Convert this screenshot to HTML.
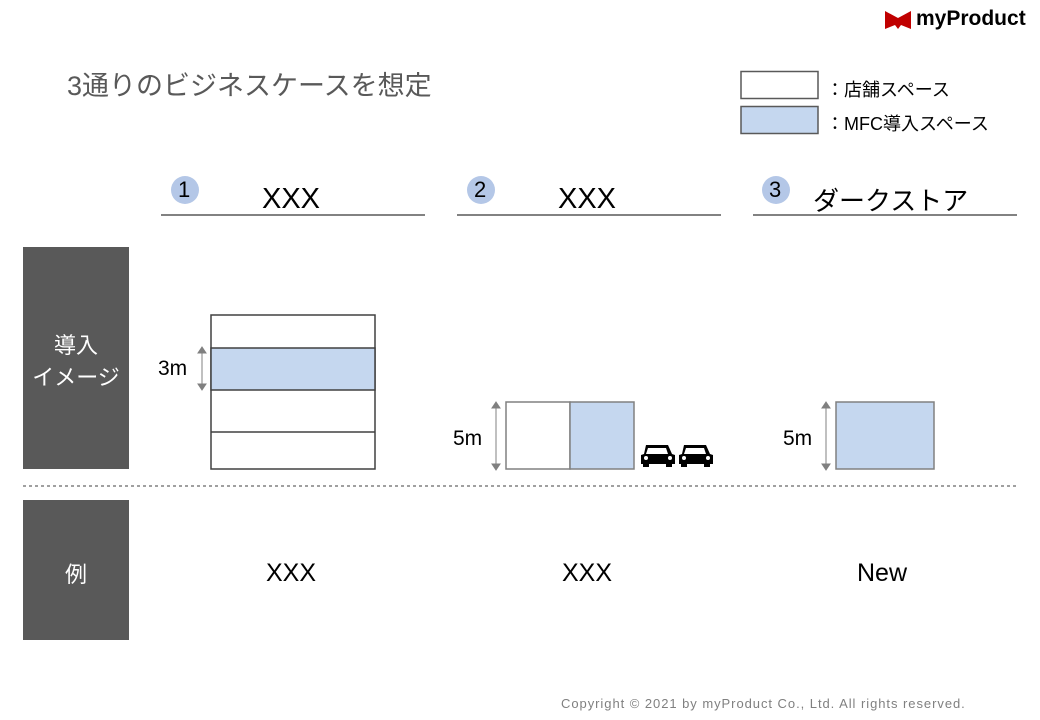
<!DOCTYPE html>
<html><head><meta charset="utf-8"><style>
body{margin:0;width:1040px;height:720px;background:#fff;position:relative;overflow:hidden;font-family:"Liberation Sans","Noto Sans CJK JP",sans-serif}
.a{position:absolute}
.t{position:absolute;white-space:nowrap}
</style></head><body>
<svg class="a" style="left:0;top:0" width="1040" height="720">
<path d="M885 11 L898 18 L911 11 L911 29 L901 25 L898 29 L895 25 L885 29 Z" fill="#c00000"/>
<line x1="161" y1="215" x2="425" y2="215" stroke="#595959" stroke-width="1.5"/>
<line x1="457" y1="215" x2="721" y2="215" stroke="#595959" stroke-width="1.5"/>
<line x1="753" y1="215" x2="1017" y2="215" stroke="#595959" stroke-width="1.5"/>
<circle cx="185" cy="190" r="14" fill="#b4c7e7"/>
<circle cx="481" cy="190" r="14" fill="#b4c7e7"/>
<circle cx="776" cy="190" r="14" fill="#b4c7e7"/>
<rect x="741" y="71.5" width="77" height="27" fill="#fff" stroke="#595959" stroke-width="1.5"/>
<rect x="741" y="106.5" width="77" height="27" fill="#c5d7ef" stroke="#595959" stroke-width="1.5"/>
<rect x="23" y="247" width="106" height="222" fill="#595959"/>
<rect x="23" y="500" width="106" height="140" fill="#595959"/>
<line x1="23" y1="486" x2="1017" y2="486" stroke="#404040" stroke-width="1" stroke-dasharray="3,3"/>
<rect x="211" y="315" width="164" height="154" fill="#fff" stroke="#404040" stroke-width="1.5"/>
<rect x="211" y="348" width="164" height="42" fill="#c5d7ef" stroke="#404040" stroke-width="1.5"/>
<line x1="211" y1="432" x2="375" y2="432" stroke="#404040" stroke-width="1.5"/>
<g stroke="#808080" fill="#808080">
<line x1="202" y1="351" x2="202" y2="386"/><path d="M198 353 L202 347 L206 353Z"/><path d="M198 384 L202 390 L206 384Z"/>
<line x1="496" y1="406" x2="496" y2="466"/><path d="M492 408 L496 402 L500 408Z"/><path d="M492 464 L496 470 L500 464Z"/>
<line x1="826" y1="406" x2="826" y2="466"/><path d="M822 408 L826 402 L830 408Z"/><path d="M822 464 L826 470 L830 464Z"/>
</g>
<rect x="506" y="402" width="64" height="67" fill="#fff" stroke="#808080" stroke-width="1.5"/>
<rect x="570" y="402" width="64" height="67" fill="#c5d7ef" stroke="#808080" stroke-width="1.5"/>
<g fill="#000">
<path d="M646 445 L668 445 L672 454 L675 455 L675 464 L641 464 L641 455 L644 454Z"/><rect x="643" y="463" width="6" height="4"/><rect x="666" y="463" width="6" height="4"/>
<path d="M684 445 L706 445 L710 454 L713 455 L713 464 L679 464 L679 455 L682 454Z"/><rect x="681" y="463" width="6" height="4"/><rect x="704" y="463" width="6" height="4"/>
</g>
<g fill="#fff"><path d="M648 448 L666 448 L668 454 L646 454Z"/><path d="M686 448 L704 448 L706 454 L684 454Z"/>
<circle cx="646" cy="458" r="2"/><circle cx="670" cy="458" r="2"/><circle cx="684" cy="458" r="2"/><circle cx="708" cy="458" r="2"/></g>
<rect x="836" y="402" width="98" height="67" fill="#c5d7ef" stroke="#808080" stroke-width="1.5"/>
</svg>
<div class="t" style="left:916px;top:7px;font-size:21px;font-weight:bold;color:#000">myProduct</div>
<div class="t" style="left:67px;top:64px;font-size:27px;color:#595959">3通りのビジネスケースを想定</div>
<div class="t" style="left:826px;top:76px;font-size:18px;color:#000">：店舗スペース</div>
<div class="t" style="left:826px;top:110px;font-size:18px;color:#000">：MFC導入スペース</div>
<div class="t" style="left:178px;top:177px;font-size:22px;color:#000">1</div>
<div class="t" style="left:474px;top:177px;font-size:22px;color:#000">2</div>
<div class="t" style="left:769px;top:177px;font-size:22px;color:#000">3</div>
<div class="t" style="left:262px;top:183px;font-size:29px;color:#000">XXX</div>
<div class="t" style="left:558px;top:183px;font-size:29px;color:#000">XXX</div>
<div class="t" style="left:813px;top:181px;font-size:26px;color:#000">ダークストア</div>
<div class="t" style="left:23px;top:330px;width:106px;text-align:center;font-size:22px;line-height:32px;color:#fff">導入<br>イメージ</div>
<div class="t" style="left:23px;top:557px;width:106px;text-align:center;font-size:22px;color:#fff">例</div>
<div class="t" style="left:158px;top:357px;font-size:21px;color:#000">3m</div>
<div class="t" style="left:453px;top:427px;font-size:21px;color:#000">5m</div>
<div class="t" style="left:783px;top:427px;font-size:21px;color:#000">5m</div>
<div class="t" style="left:266px;top:559px;font-size:25px;color:#000">XXX</div>
<div class="t" style="left:562px;top:559px;font-size:25px;color:#000">XXX</div>
<div class="t" style="left:857px;top:559px;font-size:25px;color:#000">New</div>
<div class="t" style="left:561px;top:696px;font-size:13px;color:#808080;letter-spacing:0.95px">Copyright © 2021 by myProduct Co., Ltd.  All rights reserved.</div>
</body></html>
